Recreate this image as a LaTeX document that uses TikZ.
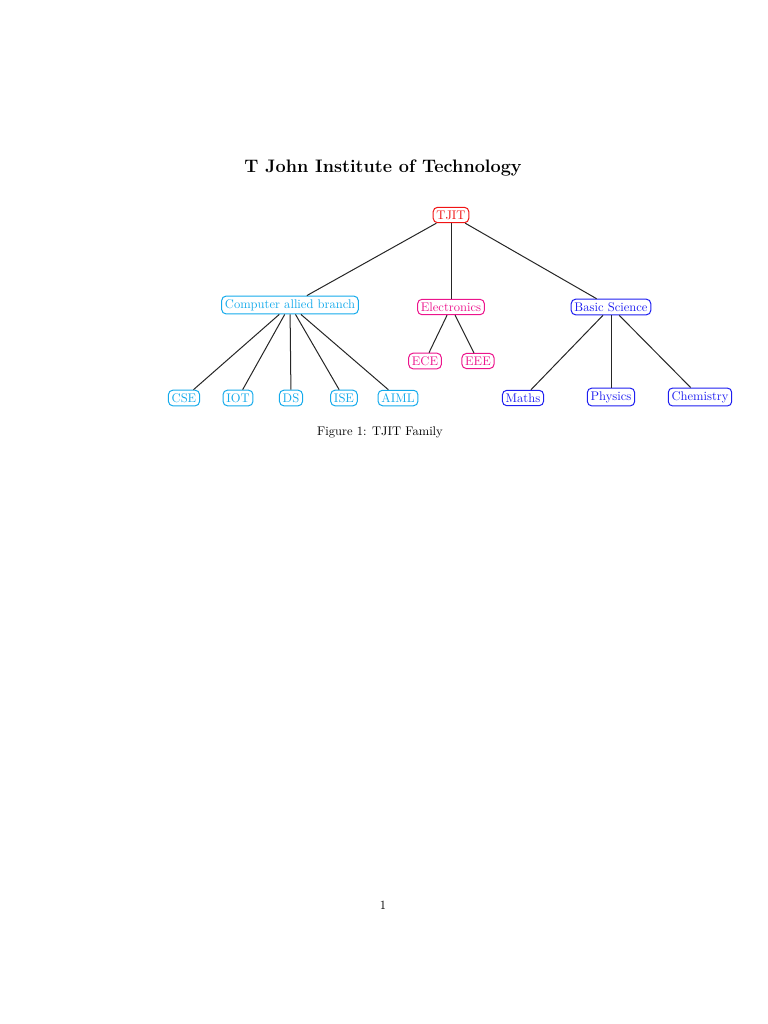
\documentclass[tikz,border=0pt]{standalone}
\usepackage{xcolor}
\definecolor{tjred}{RGB}{240,20,20}
\definecolor{tjcyan}{RGB}{20,170,235}
\definecolor{tjmag}{RGB}{236,20,140}
\definecolor{tjblue}{RGB}{30,30,240}
\begin{document}
\begin{tikzpicture}[x=0.797pt,y=-0.797pt,
  box/.style={draw=#1,text=#1,rounded corners=3.5pt,thick,inner xsep=2.6pt,inner ysep=2.6pt,font=\normalsize},
  link/.style={draw=black!85,thick}]
\useasboundingbox (0,0) rectangle (768,1024);
\node[font=\Large\bfseries] (title) at (383,168) {T John Institute of Technology};
\node[box=tjred] (root) at (451,215) {TJIT};
\node[box=tjcyan] (cab) at (290,305) {Computer allied branch};
\node[box=tjmag] (elec) at (451,307) {Electronics};
\node[box=tjblue] (bs) at (611,307) {Basic Science};
\node[box=tjmag] (ece) at (425,361) {ECE};
\node[box=tjmag] (eee) at (478,361) {EEE};
\node[box=tjcyan] (cse) at (184,398) {CSE};
\node[box=tjcyan] (iot) at (238,398) {IOT};
\node[box=tjcyan] (ds) at (291,398) {DS};
\node[box=tjcyan] (ise) at (344,398) {ISE};
\node[box=tjcyan] (aiml) at (398,398) {AIML};
\node[box=tjblue] (maths) at (523,398) {Maths};
\node[box=tjblue] (phys) at (611,397) {Physics};
\node[box=tjblue] (chem) at (700,397) {Chemistry};
\foreach \a/\b in {root/cab,root/elec,root/bs,elec/ece,elec/eee,cab/cse,cab/iot,cab/ds,cab/ise,cab/aiml,bs/maths,bs/phys,bs/chem}
  \draw[link] (\a) -- (\b);
\node (caption) at (380,432) {Figure 1: TJIT Family};
\node (pagenum) at (383,905) {1};
\end{tikzpicture}
\end{document}
